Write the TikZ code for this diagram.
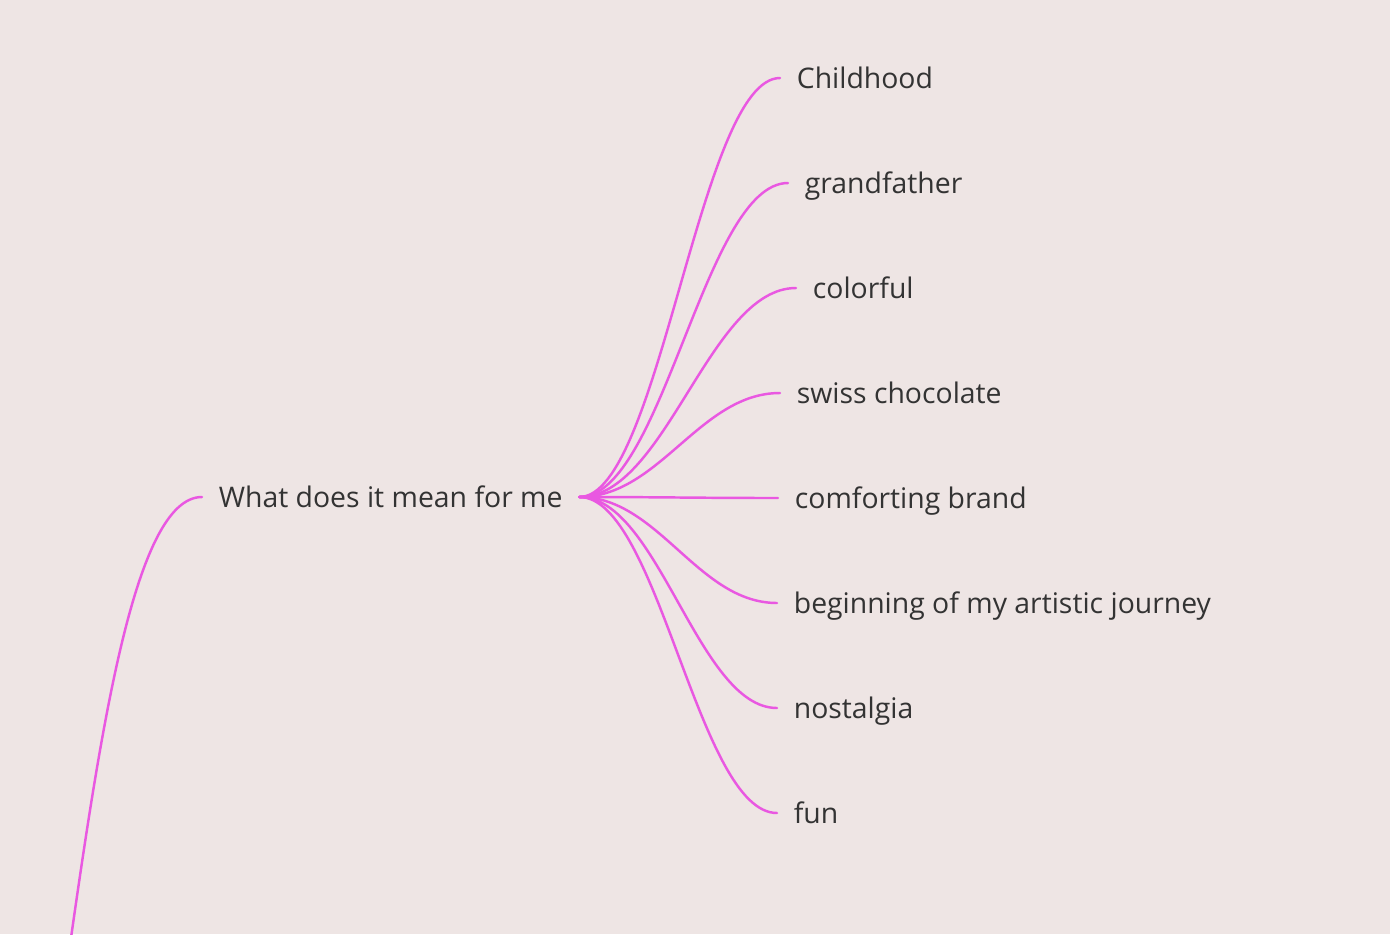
\documentclass[tikz,border=0pt]{standalone}
\usepackage{fontspec}
\setmainfont{Open Sans}
\usepackage{tikz}
\usetikzlibrary{positioning,calc}
\definecolor{bgpink}{RGB}{238,229,228}
\definecolor{branch}{RGB}{233,88,225}
\definecolor{inkgray}{RGB}{51,51,51}

\begin{document}
\begin{tikzpicture}[x=0.02cm, y=-0.02cm,
  topic/.style={anchor=west, inner xsep=0.33cm, inner ysep=0pt, text height=11.5pt, text depth=0pt, font=\fontsize{16.15}{19}\selectfont, text=inkgray},
  link/.style={draw=branch, line width=1.4pt, line cap=round}]
  \fill[bgpink] (0,0) rectangle (1390,934);
  \useasboundingbox (0,0) rectangle (1390,934);
  \node[topic] (meaning) at (202,497) {What does it mean for me};
  \node[topic] (childhood) at (780,78) {Childhood};
  \node[topic] (grandpa) at (788,183) {grandfather};
  \node[topic] (colorful) at (796,288) {colorful};
  \node[topic] (swiss) at (780,393) {swiss chocolate};
  \node[topic] (comfort) at (778,498) {comforting brand};
  \node[topic] (artistic) at (777,603) {beginning of my artistic journey};
  \node[topic] (nostalgia) at (777,708) {nostalgia};
  \node[topic] (fun) at (777,813) {fun};
  \coordinate (parent) at (-72,1463);
  \draw[link] let \p1=(parent), \p2=(meaning.west) in
    (\p1) .. controls ({(\x1+\x2)/2},\y1) and ({(\x1+\x2)/2},\y2) .. (\p2);
  \foreach \leaf in {childhood,grandpa,colorful,swiss,comfort,artistic,nostalgia,fun}
    \draw[link] let \p1=(meaning.east), \p2=(\leaf.west) in
      (\p1) .. controls ({\x1+0.4*(\x2-\x1)},\y1) and ({\x2-0.4*(\x2-\x1)},\y2) .. (\p2);
\end{tikzpicture}
\end{document}
